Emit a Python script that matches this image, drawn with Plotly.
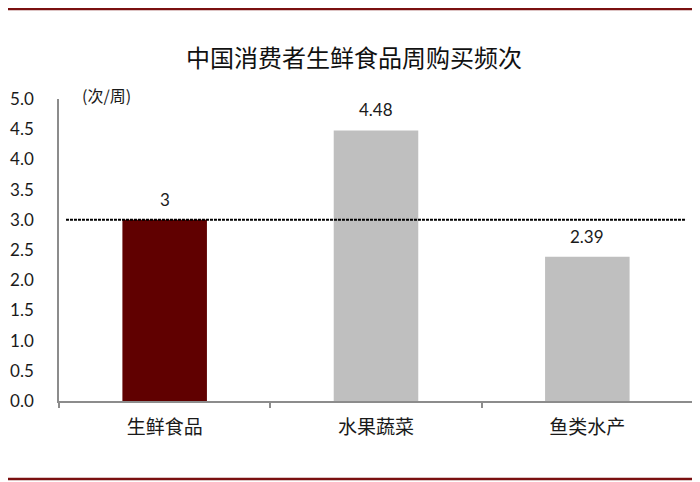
import plotly.graph_objects as go

categories = ["生鲜食品", "水果蔬菜", "鱼类水产"]
values = [3, 4.48, 2.39]
labels = ["3", "4.48", "2.39"]
bar_colors = ["#600000", "#bfbfbf", "#bfbfbf"]
ref_value = 3.0
y_ticks = [0, 0.5, 1, 1.5, 2, 2.5, 3, 3.5, 4, 4.5, 5]

cjk = "Noto Sans CJK SC"
num = "Lato, Open Sans, sans-serif"

fig = go.Figure(go.Bar(
    x=categories,
    y=values,
    marker=dict(color=bar_colors, line=dict(width=0)),
    width=0.4,
))

# value labels above each bar
for c, v, t in zip(categories, values, labels):
    fig.add_annotation(x=c, y=v, text=t, showarrow=False,
                       yanchor="bottom", yshift=8,
                       font=dict(family=num, size=17, color="#1a1a1a"))

# dashed reference line at 3.0
fig.add_shape(type="line", xref="x", yref="y",
              x0=-0.467, x1=2.467, y0=ref_value, y1=ref_value,
              line=dict(color="black", width=2, dash="3px,1px"))

# dark red frame lines top and bottom
for yy in [1.298, -0.258]:
    fig.add_shape(type="line", xref="paper", yref="paper",
                  x0=-0.09, x1=1.02, y0=yy, y1=yy,
                  line=dict(color="#7a1010", width=2.5))

fig.add_annotation(text="(次/周)", xref="paper", yref="paper",
                   x=0.033, y=1.013, xanchor="left", yanchor="middle",
                   showarrow=False, font=dict(family=cjk, size=16, color="#1a1a1a"))

# page body adds 8px around the figure, so size is reduced to fit the window
fig.update_layout(
    width=692, height=474,
    margin=dict(l=51, r=7, t=91, b=81),
    paper_bgcolor="white", plot_bgcolor="white",
    showlegend=False,
    title=dict(text="中国消费者生鲜食品周购买频次", x=0.5, xanchor="center",
               y=0.893, yanchor="middle",
               font=dict(family=cjk, size=24, color="#111111")),
    xaxis=dict(
        range=[-0.5, 2.5], automargin=False,
        showline=True, linecolor="#8c8c8c", linewidth=1.5,
        ticks="outside", ticklen=5, tickcolor="#8c8c8c", tickwidth=1.5,
        tickson="boundaries", ticklabelstandoff=8,
        tickfont=dict(family=cjk, size=19, color="#1a1a1a"),
        showgrid=False,
    ),
    yaxis=dict(
        range=[0, 5], automargin=False,
        tickvals=y_ticks,
        tickformat=".1f",
        showline=True, linecolor="#8c8c8c", linewidth=1.5,
        ticks="", ticklabelstandoff=20,
        tickfont=dict(family=num, size=17, color="#1a1a1a"),
        showgrid=False, zeroline=False,
    ),
)

fig.write_html("out.html")
